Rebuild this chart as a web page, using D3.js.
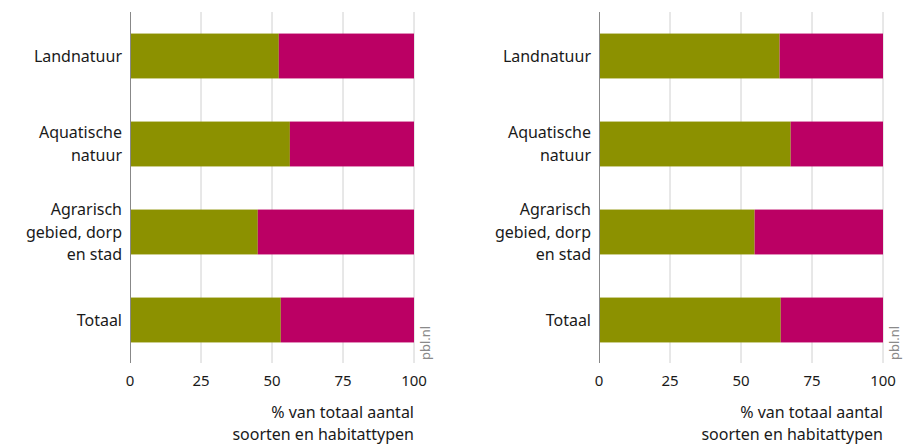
<!DOCTYPE html>
<html>
<head>
<meta charset="utf-8">
<script src="https://cdn.jsdelivr.net/npm/d3@7"></script>
<style>
  body { margin: 0; background: #fff; }
  svg { font-family: "Noto Sans", "Open Sans", sans-serif; }
</style>
</head>
<body>
<svg id="chart" width="903" height="444"></svg>
<script>
// data
var categories = [
  ["Landnatuur"],
  ["Aquatische", "natuur"],
  ["Agrarisch", "gebied, dorp", "en stad"],
  ["Totaal"]
];
var leftValues = [52.4, 56.3, 45.0, 53.1];   // green part, left panel
var rightValues = [63.6, 67.5, 54.8, 64.0];  // green part, right panel
var ticks = [0, 25, 50, 75, 100];
var axisTitle = ["% van totaal aantal", "soorten en habitattypen"];

var green = "#8c9100", magenta = "#bb0064";
var svg = d3.select("#chart");

function panel(x0, values) {
  var x = d3.scaleLinear().domain([0, 100]).range([0, 284]);
  var y = d3.scaleBand().domain(d3.range(categories.length))
    .range([12, 364]).paddingInner(0.49).paddingOuter(0.245);

  var g = svg.append("g").attr("transform", "translate(" + x0 + ",0)");

  // grid lines
  g.selectAll(".grid").data(ticks.slice(1)).enter()
    .append("line")
    .attr("x1", function(d) { return x(d); })
    .attr("x2", function(d) { return x(d); })
    .attr("y1", 12).attr("y2", 363)
    .attr("stroke", "#d0d0d0").attr("stroke-width", 1);

  var rows = g.selectAll(".row").data(values).enter().append("g");
  rows.append("rect")
    .attr("x", x(0))
    .attr("y", function(d, i) { return y(i); })
    .attr("width", function(d) { return x(d) - x(0); })
    .attr("height", y.bandwidth())
    .attr("fill", green);
  rows.append("rect")
    .attr("x", function(d) { return x(d); })
    .attr("y", function(d, i) { return y(i); })
    .attr("width", function(d) { return x(100) - x(d); })
    .attr("height", y.bandwidth())
    .attr("fill", magenta);

  // axis line at 0
  g.append("line")
    .attr("x1", 0.5).attr("x2", 0.5).attr("y1", 12).attr("y2", 363)
    .attr("stroke", "#888").attr("stroke-width", 1);

  // category labels
  var lh = 22.5;
  categories.forEach(function(lines, i) {
    var cy = y(i) + y.bandwidth() / 2;
    var t = g.append("text")
      .attr("text-anchor", "end")
      .attr("font-size", 16)
      .attr("fill", "#1a1a1a");
    lines.forEach(function(s, k) {
      t.append("tspan")
        .attr("x", -8)
        .attr("y", cy + (k - (lines.length - 1) / 2) * lh)
        .attr("dy", "0.35em")
        .text(s);
    });
  });

  // tick labels
  g.selectAll(".tick").data(ticks).enter()
    .append("text")
    .attr("x", function(d) { return x(d); })
    .attr("y", 381).attr("dy", "0.35em")
    .attr("text-anchor", "middle")
    .attr("font-size", 15)
    .attr("fill", "#1a1a1a")
    .text(function(d) { return d; });

  // axis title
  axisTitle.forEach(function(s, k) {
    g.append("text")
      .attr("x", x(100)).attr("y", 412 + k * 22).attr("dy", "0.35em")
      .attr("text-anchor", "end")
      .attr("font-size", 16)
      .attr("fill", "#1a1a1a")
      .text(s);
  });

  // source mark
  g.append("text")
    .attr("transform", "translate(" + (x(100) + 16) + ",360) rotate(-90)")
    .attr("font-size", 13)
    .attr("fill", "#8a8a8a")
    .text("pbl.nl");
}

panel(130, leftValues);
panel(599, rightValues);
</script>
</body>
</html>
